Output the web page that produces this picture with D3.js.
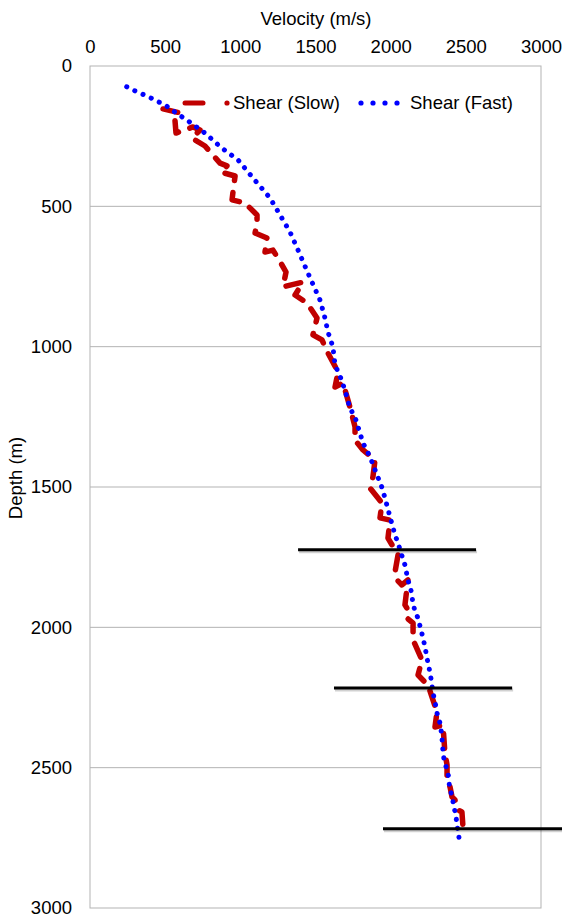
<!DOCTYPE html>
<html lang="en">
<head>
  <meta charset="UTF-8">
  <title>Shear velocity vs depth</title>
  <style>
    * { margin: 0; padding: 0; box-sizing: border-box; }
    body { background: #fff; font-family: 'Liberation Sans', Arial, sans-serif; }
    .tick text { font-size: 18.5px; fill: #000; font-family: 'Liberation Sans', Arial, sans-serif; }
    .axis-title { font-size: 18.5px; fill: #000; }
    .legend-text { font-size: 18.5px; fill: #000; }
  </style>
  <script src="https://cdn.jsdelivr.net/npm/d3@7/dist/d3.min.js"></script>
</head>
<body>
  <svg id="chart" width="562" height="917"></svg>

  <script>
    const velocityTicks = [0, 500, 1000, 1500, 2000, 2500, 3000];
    const depthTicks = [0, 500, 1000, 1500, 2000, 2500, 3000];

    // Shear (Slow) - velocity (m/s) and depth (m)
    const slowVelocity = [486, 599, 565, 572, 685, 732, 678, 765, 865, 911, 871, 965, 951, 945, 1031, 1111, 1111, 1098,
      1177, 1164, 1217, 1277, 1304, 1284, 1417, 1364, 1443, 1510, 1483, 1543, 1583, 1650, 1630, 1683, 1710, 1729,
      1763, 1763, 1816, 1896, 1882, 1863, 1942, 1929, 1996, 1982, 2049, 2029, 2042, 2075, 2115, 2095, 2115, 2109,
      2149, 2149, 2208, 2182, 2228, 2248, 2308, 2295, 2348, 2361, 2375, 2375, 2395, 2408, 2428, 2448, 2474, 2481];
    const slowDepth = [153, 167, 192, 239, 217, 228, 257, 285, 346, 356, 378, 392, 449, 477, 488, 531, 559, 595,
      613, 663, 656, 709, 734, 787, 770, 816, 844, 898, 958, 976, 1023, 1090, 1144, 1129, 1179, 1215,
      1286, 1333, 1368, 1404, 1464, 1504, 1557, 1610, 1618, 1682, 1742, 1803, 1831, 1849, 1831, 1920, 1938, 1967,
      1985, 2045, 2116, 2170, 2195, 2205, 2302, 2355, 2348, 2448, 2490, 2544, 2569, 2604, 2615, 2651, 2658, 2711];

    // Shear (Fast)
    const fastVelocity = [244, 311, 379, 446, 510, 572, 643, 765, 876, 985, 1084, 1197, 1237, 1330, 1384, 1450, 1530,
      1563, 1583, 1616, 1630, 1674, 1708, 1729, 1763, 1783, 1816, 1863, 1896, 1940, 1962, 1996, 2029, 2049, 2073,
      2095, 2115, 2135, 2147, 2162, 2182, 2200, 2213, 2228, 2240, 2262, 2273, 2280, 2295, 2308, 2328, 2340, 2346,
      2355, 2375, 2388, 2390, 2406, 2421, 2435, 2441, 2453, 2461];
    const fastDepth = [74, 92, 107, 125, 143, 167, 192, 239, 292, 335, 399, 470, 506, 591, 656, 738, 834,
      898, 948, 1001, 1065, 1119, 1178, 1219, 1251, 1286, 1343, 1393, 1439, 1499, 1539, 1607, 1671, 1700, 1742,
      1778, 1831, 1867, 1909, 1944, 1967, 2006, 2033, 2069, 2105, 2162, 2198, 2230, 2265, 2305, 2341, 2384, 2430,
      2473, 2508, 2537, 2568, 2597, 2639, 2675, 2704, 2743, 2779];

    // black horizontal marker lines
    const markerDepth = [1724, 2216, 2718];
    const markerStart = [1384, 1623, 1949];
    const markerEnd = [2568, 2808, 3140];

    drawChart();

    function drawChart() {
      const svg = d3.select('#chart');
      const plot = { left: 90, right: 541, top: 66, bottom: 908 };

      const x = d3.scaleLinear().domain([0, 3000]).range([plot.left, plot.right]);
      const y = d3.scaleLinear().domain([0, 3000]).range([plot.top, plot.bottom]);

      // gridlines
      svg.append('g')
        .selectAll('line')
        .data(depthTicks.slice(1, -1))
        .join('line')
        .attr('x1', plot.left).attr('x2', plot.right)
        .attr('y1', d => y(d)).attr('y2', d => y(d))
        .attr('stroke', '#b3b3b3').attr('stroke-width', 1);

      // plot border
      svg.append('rect')
        .attr('x', plot.left).attr('y', plot.top)
        .attr('width', plot.right - plot.left).attr('height', plot.bottom - plot.top)
        .attr('fill', 'none').attr('stroke', '#b3b3b3').attr('stroke-width', 1);

      // axes (labels only)
      const xAxis = svg.append('g')
        .attr('transform', `translate(0,${plot.top})`)
        .call(d3.axisTop(x).tickValues(velocityTicks).tickFormat(d3.format('d')).tickSize(0).tickPadding(13));
      xAxis.select('.domain').remove();

      const yAxis = svg.append('g')
        .attr('transform', `translate(${plot.left},0)`)
        .call(d3.axisLeft(y).tickValues(depthTicks).tickFormat(d3.format('d')).tickSize(0).tickPadding(18));
      yAxis.select('.domain').remove();

      svg.append('text')
        .attr('class', 'axis-title')
        .attr('x', 316).attr('y', 25)
        .attr('text-anchor', 'middle')
        .text('Velocity (m/s)');

      svg.append('text')
        .attr('class', 'axis-title')
        .attr('transform', 'translate(22,478) rotate(-90)')
        .attr('text-anchor', 'middle')
        .text('Depth (m)');

      const slow = slowVelocity.map((v, i) => [v, slowDepth[i]]);
      const fast = fastVelocity.map((v, i) => [v, fastDepth[i]]);
      const line = d3.line().x(d => x(d[0])).y(d => y(d[1]));

      svg.append('path')
        .datum(slow)
        .attr('d', line)
        .attr('fill', 'none')
        .attr('stroke', '#c00000')
        .attr('stroke-width', 5.5)
        .attr('stroke-linecap', 'round')
        .attr('stroke-linejoin', 'round')
        .attr('stroke-dasharray', '15 12');

      svg.append('path')
        .datum(fast)
        .attr('d', line)
        .attr('fill', 'none')
        .attr('stroke', '#0000ff')
        .attr('stroke-width', 5)
        .attr('stroke-linecap', 'round')
        .attr('stroke-dasharray', '0.1 8.9');

      // legend
      const legend = svg.append('g');
      legend.append('line')
        .attr('x1', 185).attr('x2', 203).attr('y1', 103).attr('y2', 103)
        .attr('stroke', '#c00000').attr('stroke-width', 5).attr('stroke-linecap', 'round');
      legend.append('circle')
        .attr('cx', 227).attr('cy', 103).attr('r', 2.6).attr('fill', '#c00000');
      legend.append('text')
        .attr('class', 'legend-text')
        .attr('x', 233).attr('y', 109)
        .text('Shear (Slow)');
      legend.selectAll('circle.fast')
        .data([0, 1, 2, 3])
        .join('circle')
        .attr('class', 'fast')
        .attr('cx', d => 361 + d * 12)
        .attr('cy', 103).attr('r', 2.6).attr('fill', '#0000ff');
      legend.append('text')
        .attr('class', 'legend-text')
        .attr('x', 410).attr('y', 109)
        .text('Shear (Fast)');

      // marker lines with a soft shadow
      const markers = markerDepth.map((d, i) => ({ d, a: markerStart[i], b: markerEnd[i] }));
      svg.append('g')
        .selectAll('line')
        .data(markers)
        .join('line')
        .attr('x1', m => x(m.a) + 1).attr('x2', m => x(m.b) + 1)
        .attr('y1', m => y(m.d) + 2).attr('y2', m => y(m.d) + 2)
        .attr('stroke', '#000').attr('stroke-opacity', 0.18).attr('stroke-width', 3);
      svg.append('g')
        .selectAll('line')
        .data(markers)
        .join('line')
        .attr('x1', m => x(m.a)).attr('x2', m => x(m.b))
        .attr('y1', m => y(m.d)).attr('y2', m => y(m.d))
        .attr('stroke', '#000').attr('stroke-width', 3);
    }
  </script>
</body>
</html>
